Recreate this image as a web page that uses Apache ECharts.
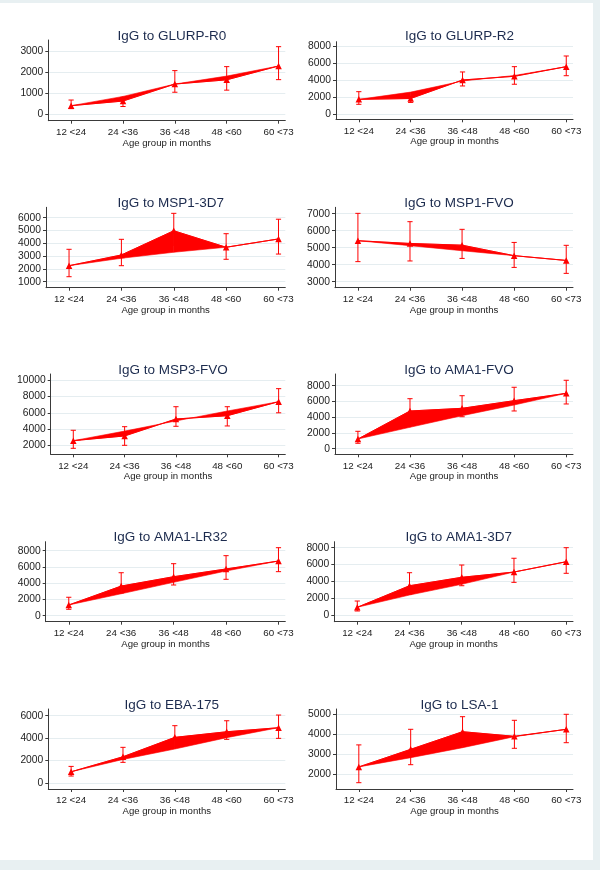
<!DOCTYPE html>
<html>
<head>
<meta charset="utf-8">
<script src="https://cdn.jsdelivr.net/npm/echarts@6/dist/echarts.min.js"></script>
<style>
  html, body { margin: 0; padding: 0; background: #e8f0f2; }
  #bg { position: absolute; left: 0; top: 3px; width: 593px; height: 857px; background: #ffffff; }
  #chart { position: absolute; left: 0; top: 0; width: 600px; height: 870px; }
</style>
</head>
<body>
<div id="bg"></div>
<div id="chart"></div>
<script>
// ---------- data ----------
const categories = ['12 <24', '24 <36', '36 <48', '48 <60', '60 <73'];
const xAxisTitle = 'Age group in months';
const titles = ['IgG to GLURP-R0', 'IgG to GLURP-R2', 'IgG to MSP1-3D7', 'IgG to MSP1-FVO', 'IgG to MSP3-FVO',
                'IgG to AMA1-FVO', 'IgG to AMA1-LR32', 'IgG to AMA1-3D7', 'IgG to EBA-175', 'IgG to LSA-1'];

const meanGLURPR0 = [410, 630, 1440, 1640, 2300];
const fitGLURPR0  = [410, 850, 1440, 1820, 2300];
const lowGLURPR0  = [270, 370, 1050, 1150, 1650];
const highGLURPR0 = [680, 810, 2080, 2270, 3220];
const ticksGLURPR0 = [0, 1000, 2000, 3000];

const meanGLURPR2 = [1750, 1850, 4020, 4450, 5580];
const fitGLURPR2  = [1750, 2600, 3900, 4550, 5580];
const lowGLURPR2  = [1170, 1390, 3320, 3520, 4520];
const highGLURPR2 = [2650, 2060, 4960, 5580, 6830];
const ticksGLURPR2 = [0, 2000, 4000, 6000, 8000];

const meanMSP13D7 = [2250, 3090, 4980, 3690, 4340];
const fitMSP13D7  = [2250, 2830, 3300, 3690, 4340];
const lowMSP13D7  = [1390, 2250, 3850, 2750, 3160];
const highMSP13D7 = [3530, 4310, 6340, 4750, 5880];
const ticksMSP13D7 = [1000, 2000, 3000, 4000, 5000, 6000];

const meanMSP1FVO = [5410, 5250, 5150, 4530, 4250];
const fitMSP1FVO  = [5410, 5120, 4820, 4530, 4250];
const lowMSP1FVO  = [4180, 4220, 4370, 3840, 3490];
const highMSP1FVO = [7020, 6530, 6080, 5310, 5140];
const ticksMSP1FVO = [3000, 4000, 5000, 6000, 7000];

const meanMSP3FVO = [2570, 3150, 5240, 5640, 7370];
const fitMSP3FVO  = [2570, 3750, 5000, 6220, 7370];
const lowMSP3FVO  = [1630, 2000, 4340, 4380, 6000];
const highMSP3FVO = [3850, 4290, 6750, 6750, 8970];
const ticksMSP3FVO = [2000, 4000, 6000, 8000, 10000];

const meanAMA1FVO = [1230, 4790, 5130, 6100, 7030];
const fitAMA1FVO  = [1230, 2720, 4190, 5550, 7030];
const lowAMA1FVO  = [690, 3300, 4060, 4790, 5680];
const highAMA1FVO = [2210, 6350, 6730, 7800, 8690];
const ticksAMA1FVO = [0, 2000, 4000, 6000, 8000];

const meanAMA1LR32 = [1320, 3650, 4800, 5750, 6730];
const fitAMA1LR32  = [1320, 2700, 4110, 5500, 6730];
const lowAMA1LR32  = [790, 2800, 3780, 4480, 5420];
const highAMA1LR32 = [2270, 5290, 6400, 7390, 8370];
const ticksAMA1LR32 = [0, 2000, 4000, 6000, 8000];

const meanAMA13D7 = [950, 3500, 4500, 5120, 6340];
const fitAMA13D7  = [950, 2400, 3670, 5120, 6340];
const lowAMA13D7  = [510, 2500, 3500, 3900, 4970];
const highAMA13D7 = [1690, 5040, 5950, 6750, 8000];
const ticksAMA13D7 = [0, 2000, 4000, 6000, 8000];

const meanEBA175 = [1000, 2340, 4070, 4570, 4930];
const fitEBA175  = [1000, 2100, 3030, 4040, 4930];
const lowEBA175  = [620, 1840, 3200, 3890, 3980];
const highEBA175 = [1480, 3180, 5110, 5550, 6060];
const ticksEBA175 = [0, 2000, 4000, 6000];

const meanLSA1 = [2370, 3250, 4130, 3900, 4250];
const fitLSA1  = [2370, 2830, 3330, 3880, 4250];
const lowLSA1  = [1580, 2480, 3450, 3300, 3580];
const highLSA1 = [3470, 4250, 4880, 4700, 5000];
const ticksLSA1 = [2000, 3000, 4000, 5000];

const panelData = [
  [meanGLURPR0, fitGLURPR0, lowGLURPR0, highGLURPR0, ticksGLURPR0],
  [meanGLURPR2, fitGLURPR2, lowGLURPR2, highGLURPR2, ticksGLURPR2],
  [meanMSP13D7, fitMSP13D7, lowMSP13D7, highMSP13D7, ticksMSP13D7],
  [meanMSP1FVO, fitMSP1FVO, lowMSP1FVO, highMSP1FVO, ticksMSP1FVO],
  [meanMSP3FVO, fitMSP3FVO, lowMSP3FVO, highMSP3FVO, ticksMSP3FVO],
  [meanAMA1FVO, fitAMA1FVO, lowAMA1FVO, highAMA1FVO, ticksAMA1FVO],
  [meanAMA1LR32, fitAMA1LR32, lowAMA1LR32, highAMA1LR32, ticksAMA1LR32],
  [meanAMA13D7, fitAMA13D7, lowAMA13D7, highAMA13D7, ticksAMA13D7],
  [meanEBA175, fitEBA175, lowEBA175, highEBA175, ticksEBA175],
  [meanLSA1, fitLSA1, lowLSA1, highLSA1, ticksLSA1]
];

// ---------- layout (pixels) & axis ranges ----------
const layout = [
  { left: 48.3, right: 285.3, top: 40.0,  h: 80.7, ymin: -305, ymax: 3538,  ty: 31.7 },
  { left: 336.0, right: 573.0, top: 41.7, h: 77.6, ymin: -586, ymax: 8504,  ty: 31.7 },
  { left: 46.0, right: 285.3, top: 207.3, h: 80.4, ymin: 531,  ymax: 6812,  ty: 198.3 },
  { left: 335.0, right: 573.0, top: 207.3, h: 80.4, ymin: 2647, ymax: 7376, ty: 198.3 },
  { left: 50.7, right: 285.3, top: 374.0, h: 80.3, ymin: 892,  ymax: 10775, ty: 365.0 },
  { left: 335.0, right: 573.0, top: 374.0, h: 80.3, ymin: -711, ymax: 9486, ty: 365.0 },
  { left: 45.7, right: 285.3, top: 541.7, h: 80.0, ymin: -738, ymax: 9108,  ty: 532.3 },
  { left: 334.3, right: 573.0, top: 541.7, h: 80.0, ymin: -757, ymax: 8710, ty: 532.3 },
  { left: 48.3, right: 285.3, top: 709.0, h: 80.0, ymin: -536, ymax: 6598,  ty: 700.0 },
  { left: 336.0, right: 573.0, top: 709.0, h: 80.0, ymin: 1265, ymax: 5265, ty: 700.0 }
];

const FONT = '"Liberation Sans", Arial, sans-serif';
const RED = '#ff0000';
const AXIS = '#3a3a3a';
const catIdx = categories.map((c, i) => i);

function renderFill(params, api) {
  const p0 = api.coord([api.value(0), api.value(1)]);
  const p1 = api.coord([api.value(2), api.value(3)]);
  const q1 = api.coord([api.value(2), api.value(4)]);
  const q0 = api.coord([api.value(0), api.value(5)]);
  return { type: 'polygon', shape: { points: [p0, p1, q1, q0] },
           style: { fill: RED, stroke: RED, lineWidth: 0.6 } };
}
function renderErr(params, api) {
  const x = api.value(0);
  const lo = api.coord([x, api.value(1)]);
  const hi = api.coord([x, api.value(2)]);
  const w = 2.6;
  const st = { stroke: RED, lineWidth: 1 };
  return { type: 'group', children: [
    { type: 'line', shape: { x1: lo[0], y1: lo[1], x2: hi[0], y2: hi[1] }, style: st },
    { type: 'line', shape: { x1: lo[0] - w, y1: lo[1], x2: lo[0] + w, y2: lo[1] }, style: st },
    { type: 'line', shape: { x1: hi[0] - w, y1: hi[1], x2: hi[0] + w, y2: hi[1] }, style: st }
  ]};
}

const option = { animation: false, backgroundColor: 'transparent',
  title: [], grid: [], xAxis: [], yAxis: [], series: [] };

panelData.forEach((pd, i) => {
  const [mean, fit, low, high, ticks] = pd;
  const L = layout[i];
  option.grid.push({ left: L.left, top: L.top, width: L.right - L.left, height: L.h });
  option.title.push({ text: titles[i], left: (L.left + L.right) / 2, top: L.ty - 8, textAlign: 'center',
    textStyle: { fontFamily: FONT, fontSize: 13.5, fontWeight: 'normal', color: '#1c2b4e', lineHeight: 16 } });
  option.xAxis.push({ type: 'value', gridIndex: i, min: -0.44, max: 4.13,
    axisLine: { show: true, onZero: false, lineStyle: { color: AXIS, width: 1 } },
    axisTick: { show: true, length: 3, customValues: catIdx, lineStyle: { color: AXIS } },
    axisLabel: { customValues: catIdx, formatter: v => categories[Math.round(v)],
      fontFamily: FONT, fontSize: 9.8, color: '#222', margin: 6.5 },
    splitLine: { show: false },
    name: xAxisTitle, nameLocation: 'middle', nameGap: 16.5,
    nameTextStyle: { fontFamily: FONT, fontSize: 9.6, color: '#222' } });
  option.yAxis.push({ type: 'value', gridIndex: i, min: L.ymin, max: L.ymax,
    axisLine: { show: true, onZero: false, lineStyle: { color: AXIS, width: 1 } },
    axisTick: { show: true, length: 3, customValues: ticks, lineStyle: { color: AXIS } },
    axisLabel: { customValues: ticks, formatter: v => String(Math.round(v)),
      fontFamily: FONT, fontSize: 10.3, color: '#222', margin: 5 },
    splitLine: { show: true, lineStyle: { color: '#e5edf0', width: 1 } } });

  const segs = [];
  for (let k = 0; k < mean.length - 1; k++) {
    segs.push([k, mean[k], k + 1, mean[k + 1], fit[k + 1], fit[k]]);
  }
  option.series.push({ type: 'custom', xAxisIndex: i, yAxisIndex: i, renderItem: renderFill,
    data: segs, clip: false, silent: true, z: 2 });
  option.series.push({ type: 'custom', xAxisIndex: i, yAxisIndex: i, renderItem: renderErr,
    data: catIdx.map(k => [k, low[k], high[k]]), clip: false, silent: true, z: 3 });
  option.series.push({ type: 'line', xAxisIndex: i, yAxisIndex: i,
    data: catIdx.map(k => [k, mean[k]]), symbol: 'triangle', symbolSize: 6.5,
    lineStyle: { color: RED, width: 1 }, itemStyle: { color: RED }, z: 4, silent: true });
});

const chart = echarts.init(document.getElementById('chart'), null, { renderer: 'canvas' });
chart.setOption(option);
</script>
</body>
</html>
